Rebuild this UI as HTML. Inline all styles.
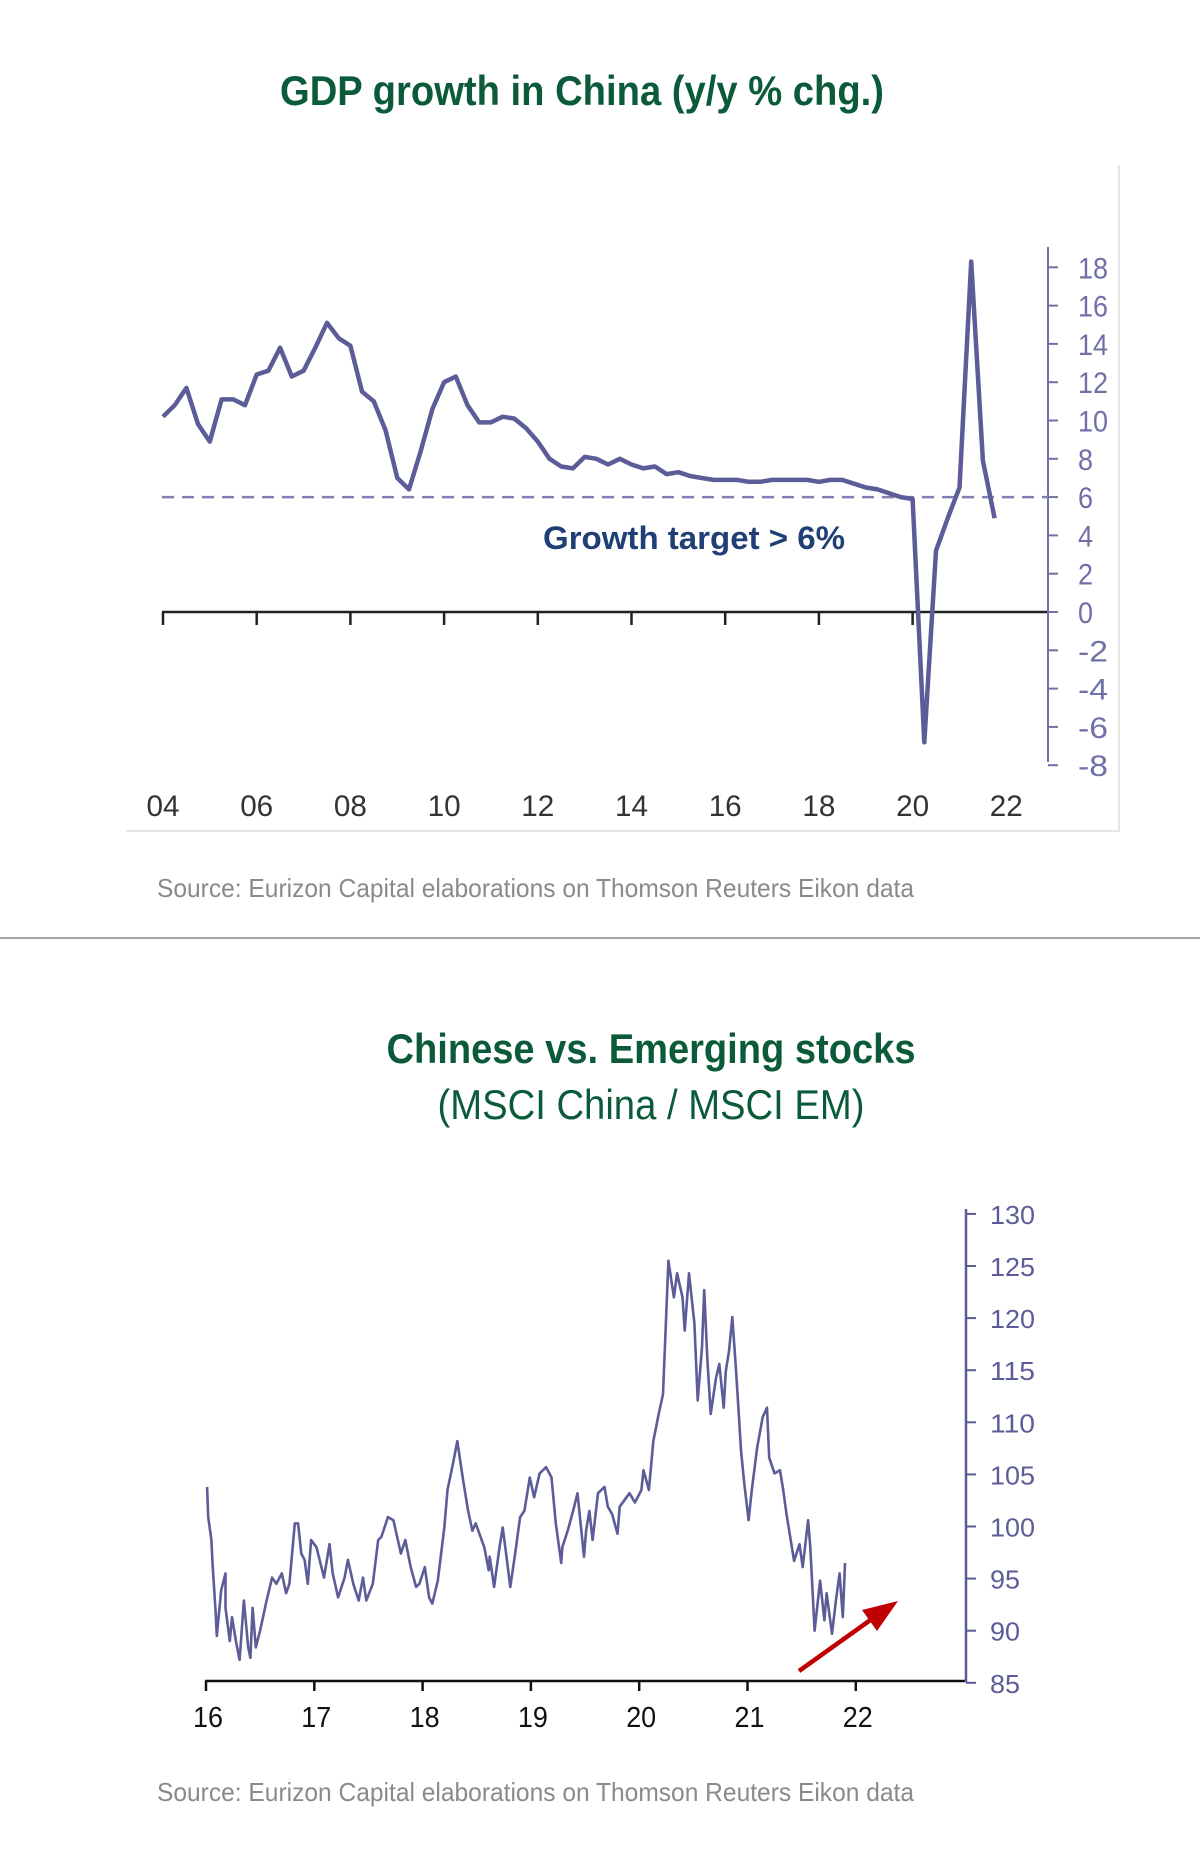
<!DOCTYPE html>
<html><head><meta charset="utf-8"><style>
html,body{margin:0;padding:0;background:#fff;}
svg{display:block;font-family:"Liberation Sans",Arial,sans-serif;}
</style></head><body>
<svg id="root" width="1200" height="1856" viewBox="0 0 1200 1856">
  <text x="582" y="105" text-anchor="middle" font-size="42" font-weight="bold" fill="#0b5a3a" textLength="604" lengthAdjust="spacingAndGlyphs">GDP growth in China (y/y % chg.)</text>
  <path d="M1119 165 L1119 831 L126 831" fill="none" stroke="#e4e4e4" stroke-width="2"/>
  <g id="gdp"></g>
  <text x="157" y="897" font-size="26" fill="#8a8a8a" textLength="757" lengthAdjust="spacingAndGlyphs">Source: Eurizon Capital elaborations on Thomson Reuters Eikon data</text>
  <line x1="0" y1="938" x2="1200" y2="938" stroke="#8a8a8a" stroke-width="1.5"/>
  <text x="651" y="1063" text-anchor="middle" font-size="42" font-weight="bold" fill="#0b5a3a" textLength="529" lengthAdjust="spacingAndGlyphs">Chinese vs. Emerging stocks</text>
  <text x="651" y="1119" text-anchor="middle" font-size="42" fill="#0b5a3a" textLength="427" lengthAdjust="spacingAndGlyphs">(MSCI China / MSCI EM)</text>
  <g id="stk"></g>
  <text x="157" y="1801" font-size="26" fill="#8a8a8a" textLength="757" lengthAdjust="spacingAndGlyphs">Source: Eurizon Capital elaborations on Thomson Reuters Eikon data</text>
</svg>
<script>
// ---- GDP chart data (quarterly from 2004Q1) ----
const gdpStartYear = 2004;
const gdpValues = [10.2,10.8,11.7,9.8, 8.9,11.1,11.1,10.8, 12.4,12.6,13.8,12.3, 12.6,13.8,15.1,14.3,
  13.9,11.5,11.0,9.5, 7.0,6.4,8.4,10.6, 12.0,12.3,10.8,9.9, 9.9,10.2,10.1,9.6,
  8.9,8.0,7.6,7.5, 8.1,8.0,7.7,8.0, 7.7,7.5,7.6,7.2, 7.3,7.1,7.0,6.9,
  6.9,6.9,6.8,6.8, 6.9,6.9,6.9,6.9, 6.8,6.9,6.9,6.7, 6.5,6.4,6.2,6.0,
  5.9,-6.8,3.2,4.9, 6.5,18.3,7.9,4.9];
const gdpYTicks = [18,16,14,12,10,8,6,4,2,0,-2,-4,-6,-8];
const gdpXTicks = ['04','06','08','10','12','14','16','18','20','22'];
const gdpTarget = 6;

// ---- Stocks chart data ----
const stkDates = [2016.01,2016.02,2016.05,2016.06,2016.09,2016.10,2016.14,2016.18,2016.18,2016.22,2016.24,2016.28,2016.31,2016.35,2016.39,2016.41,2016.43,2016.46,2016.50,2016.56,2016.61,2016.65,2016.70,2016.74,2016.77,2016.82,2016.85,2016.88,2016.91,2016.94,2016.97,2017.02,2017.09,2017.14,2017.17,2017.22,2017.28,2017.31,2017.36,2017.41,2017.45,2017.48,2017.54,2017.59,2017.62,2017.68,2017.73,2017.80,2017.84,2017.89,2017.94,2017.97,2018.02,2018.06,2018.09,2018.14,2018.20,2018.23,2018.28,2018.32,2018.37,2018.42,2018.46,2018.49,2018.57,2018.61,2018.62,2018.66,2018.71,2018.74,2018.76,2018.81,2018.85,2018.90,2018.94,2018.99,2019.03,2019.08,2019.14,2019.19,2019.23,2019.28,2019.29,2019.34,2019.39,2019.43,2019.49,2019.51,2019.54,2019.57,2019.62,2019.68,2019.71,2019.75,2019.80,2019.82,2019.91,2019.96,2020.02,2020.04,2020.09,2020.13,2020.18,2020.22,2020.27,2020.32,2020.35,2020.40,2020.42,2020.46,2020.51,2020.54,2020.58,2020.60,2020.63,2020.66,2020.71,2020.74,2020.78,2020.80,2020.83,2020.86,2020.89,2020.92,2020.94,2020.97,2021.01,2021.04,2021.09,2021.14,2021.18,2021.20,2021.25,2021.30,2021.33,2021.36,2021.43,2021.48,2021.51,2021.56,2021.58,2021.62,2021.67,2021.71,2021.73,2021.78,2021.82,2021.85,2021.88,2021.90];
const stkValues = [103.8,100.9,98.7,96.5,91.7,89.5,93.9,95.5,92.2,89.0,91.3,88.8,87.2,92.9,88.4,87.4,92.2,88.4,90.0,92.9,95.1,94.5,95.5,93.6,94.5,100.3,100.3,97.4,96.8,94.5,98.7,98.0,95.1,98.3,95.5,93.2,95.1,96.8,94.5,92.9,95.1,92.9,94.5,98.7,99.0,100.9,100.6,97.4,98.7,96.1,94.2,94.5,96.1,93.2,92.6,94.8,99.9,103.5,106.0,108.2,104.7,101.5,99.6,100.3,98.0,95.8,97.1,94.2,98.0,99.9,98.3,94.2,97.1,100.9,101.5,104.7,102.8,105.1,105.7,104.7,100.3,96.5,98.0,99.6,101.5,103.2,97.1,99.6,101.5,98.7,103.2,103.8,101.9,101.2,99.3,101.9,103.2,102.3,103.5,105.4,103.5,108.2,110.8,112.7,125.5,122.0,124.3,122.0,118.8,124.3,119.5,112.1,117.2,122.7,116.0,110.8,114.3,115.6,111.4,114.9,116.9,120.1,115.6,110.8,107.3,104.1,100.6,103.5,107.6,110.5,111.4,106.6,105.1,105.4,103.5,101.2,96.7,98.3,96.1,100.6,98.0,90.0,94.8,91.0,93.6,89.7,93.2,95.5,91.3,96.5,95.1,91.7,93.2];
const stkYTicks = [130,125,120,115,110,105,100,95,90,85];
const stkXTicks = ['16','17','18','19','20','21','22'];

const NS = 'http://www.w3.org/2000/svg';
function mk(parent, tag, attrs){ const e=document.createElementNS(NS,tag); for(const k in attrs) e.setAttribute(k,attrs[k]); parent.appendChild(e); return e; }

// ---- GDP axes ----
const gdpG = document.getElementById('gdp');
const gY = v => 612 - v*19.15;
const gX = yr => 163 + (yr-2004)*46.85;

const zl = mk(gdpG,'line',{x1:162,y1:gY(0),x2:1048,y2:gY(0),stroke:'#222','stroke-width':2.5});


gdpXTicks.forEach((t)=>{
  const yr = 2000+parseInt(t,10);
  const x = gX(yr);
  if (yr < 2022) {
    const tk = mk(gdpG,'line',{x1:x,y1:gY(0),x2:x,y2:gY(0)+13,stroke:'#222','stroke-width':2.5});
    
    
  }
  const lb = mk(gdpG,'text',{x:x,y:816,'text-anchor':'middle','font-size':30,fill:'#333',textLength:33,lengthAdjust:'spacingAndGlyphs'});
  lb.textContent = t;
  
  
});
const ya = mk(gdpG,'line',{x1:1048,y1:247,x2:1048,y2:762,stroke:'#7070a8','stroke-width':2});


gdpYTicks.forEach(v=>{
  const y=gY(v);
  const tk = mk(gdpG,'line',{x1:1048,y1:y,x2:1058,y2:y,stroke:'#7070a8','stroke-width':2});
  
  
  const s=String(v);
  const lb = mk(gdpG,'text',{x:1078,y:y+11,'font-size':30,fill:'#7070a8',textLength:s.length*15,lengthAdjust:'spacingAndGlyphs'});
  lb.textContent = s;
  
  
});
const tl = mk(gdpG,'line',{x1:162,y1:gY(gdpTarget),x2:1048,y2:gY(gdpTarget),stroke:'#7f7fb2','stroke-width':2.5,'stroke-dasharray':'12 8'});


const tt = mk(gdpG,'text',{x:543,y:549,'font-size':32,'font-weight':'bold',fill:'#1f3f75',textLength:302,lengthAdjust:'spacingAndGlyphs'});
tt.textContent = 'Growth target > 6%';


const gdpPts = gdpValues.map((v,i)=>gX(gdpStartYear+i*0.25).toFixed(1)+','+gY(v).toFixed(1)).join(' ');
const gl = mk(gdpG,'polyline',{points:gdpPts,fill:'none',stroke:'#5c5c98','stroke-width':4.5,'stroke-linejoin':'round'});



// ---- Stocks axes ----
const stG = document.getElementById('stk');
const sY = v => 1682.8 - (v-85)*10.42;
const sX = yr => 206 + (yr-2016)*108.3;
const sxa = mk(stG,'line',{x1:205,y1:1681,x2:966,y2:1681,stroke:'#111','stroke-width':2.5});


stkXTicks.forEach(t=>{
  const x = sX(2000+parseInt(t,10));
  const tk = mk(stG,'line',{x1:x,y1:1681,x2:x,y2:1691,stroke:'#111','stroke-width':2.5});
  
  
  const lb = mk(stG,'text',{x:x+2,y:1727,'text-anchor':'middle','font-size':29,fill:'#111',textLength:30,lengthAdjust:'spacingAndGlyphs'});
  lb.textContent = t;
  
  
});
const sya = mk(stG,'line',{x1:966,y1:1209,x2:966,y2:1682,stroke:'#5c5c98','stroke-width':2.5});


stkYTicks.forEach(v=>{
  const y=sY(v);
  const tk = mk(stG,'line',{x1:966,y1:y,x2:976,y2:y,stroke:'#5c5c98','stroke-width':2});
  
  
  const lb = mk(stG,'text',{x:990,y:y+10,'font-size':26,fill:'#5c5c98',textLength:String(v).length*15,lengthAdjust:'spacingAndGlyphs'});
  lb.textContent = String(v);
  
  
});
const stkPts = stkValues.map((v,i)=>sX(stkDates[i]).toFixed(1)+','+sY(v).toFixed(1)).join(' ');
const sl = mk(stG,'polyline',{points:stkPts,fill:'none',stroke:'#5c5c98','stroke-width':2.6,'stroke-linejoin':'round'});


const ar = mk(stG,'line',{x1:799,y1:1671,x2:876,y2:1616,stroke:'#c00000','stroke-width':4.5});


const ah = mk(stG,'polygon',{points:'898,1601 862,1610 877,1631',fill:'#c00000'});


</script>
</body></html>
